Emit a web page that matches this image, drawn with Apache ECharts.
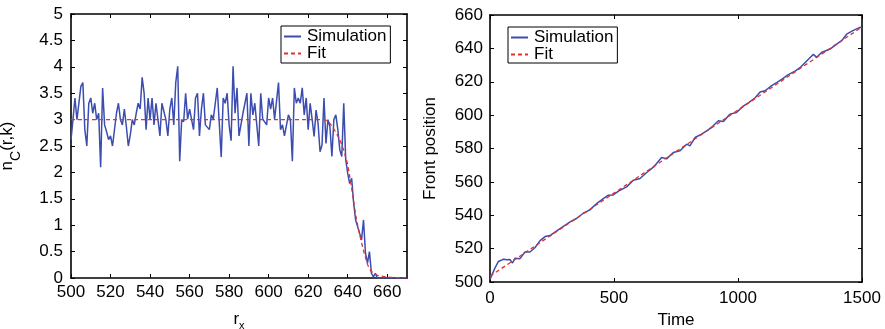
<!DOCTYPE html>
<html><head><meta charset="utf-8">
<script src="https://cdn.jsdelivr.net/npm/echarts@6/dist/echarts.min.js"></script>
<style>html,body{margin:0;padding:0;background:#fff}#c{width:885px;height:329px}</style>
</head><body><div id="c"></div>
<script>
// ---------- Left panel data ----------
const rStart = 500;
const nSim = [
 2.62,3.0,3.41,3.0,3.0,3.63,3.70,2.81,2.50,3.31,3.41,3.12,3.31,3.0,3.12,2.10,3.60,2.90,2.77,2.62,
 2.69,2.50,2.50,3.12,3.31,3.0,2.90,3.20,2.87,2.50,2.71,3.0,2.90,3.12,3.31,3.20,3.80,3.50,2.81,3.41,
 3.0,3.41,2.90,3.31,3.0,2.69,3.31,3.31,3.0,2.69,3.20,3.41,2.90,3.70,4.01,2.21,
 3.0,2.96,3.50,3.01,3.20,3.20,2.81,3.41,3.50,2.69,3.20,3.50,2.90,2.90,2.81,3.09,3.01,3.31,3.60,3.60,
 2.29,3.41,3.31,3.50,2.90,2.60,4.01,3.12,3.60,2.69,2.69,3.12,3.31,3.50,2.50,3.50,3.09,3.31,2.90,2.50,
 3.50,3.01,3.01,2.90,3.41,3.20,3.41,3.01,3.01,3.70,2.81,2.90,2.69,2.69,3.09,3.0,2.21,3.60,
 3.31,3.41,3.31,3.60,3.09,3.41,2.81,3.31,3.01,2.68,3.18,2.93,2.39,2.52,3.41,2.55,3.0,2.87,2.30,3.0,
 3.09,2.81,2.43,2.30,3.31,2.24,1.98,1.79,1.89,1.42,1.10,1.10,0.85,0.72,1.10,0.47,0.28,0.50,0.09,0.02,
 0.09,0,0,0,0,0,0,0,0,0,0,0,0,0,0,0,0
];
const fitR = [500,628,630,632,634,635,636,637,638,639,640,641,642,643,644,645,646,647,648,649,650,651,652,653,655,658,662,670];
const fitN = [3,3,2.97,2.88,2.76,2.69,2.62,2.52,2.42,2.28,2.15,1.93,1.70,1.45,1.20,1.0,0.83,0.67,0.52,0.39,0.26,0.17,0.12,0.09,0.05,0.03,0.01,0];
const rTicks = [500,520,540,560,580,600,620,640,660];
const nTicks = [0,0.5,1,1.5,2,2.5,3,3.5,4,4.5,5];

// ---------- Right panel data ----------
const timeSim = [0,10,20,34,45,54,70,80,91,101,121,141,161,181,202,222,242,269,296,323,350,376,403,430,457,477,497,524,551,578,605,632,659,692,712,739,766,793,806,827,853,880,900,921,941,968,994,1021,1042,1069,1089,1109,1136,1156,1176,1203,1230,1250,1270,1290,1304,1317,1337,1371,1398,1418,1438,1465,1492,1500];
const posSim = [501.6,505,508.4,512.3,513,513.7,513.3,513.5,511.4,514.3,514,518.0,518.0,520.5,524.8,527.2,527.8,530.6,533.4,536.0,538.2,541.2,543.2,547.0,550.0,552.0,552.2,555.0,557.0,561.0,562.0,565.6,568.8,574.6,573.8,577.6,578.6,582.6,581.6,586.6,588.6,591.2,593.6,596.6,596.2,600.6,601.6,605.4,607.4,610.4,613.8,614.6,617.7,619.5,621.4,624.3,626.4,628.4,631.4,634.4,636.4,634.6,637.5,639.6,642.6,644.6,648.5,650.8,652.6,652.4];
const timeFit = [0,1500];
const posFit = [503.5,652.8];
const timeTicks = [0,500,1000,1500];
const posTicks = [500,520,540,560,580,600,620,640,660];

const FONT = '"Liberation Sans", Arial, Helvetica, sans-serif';
const BLUE = '#3c4db0';
const RED = '#e2322b';

function axis(o){
  const base = {
    type:'value', min:o.min, max:o.max, gridIndex:o.grid, position:o.pos,
    axisLine:{show:true, onZero:false, lineStyle:{color:'#000', width:1.6}},
    axisTick:{show:true, inside:true, length:4, customValues:o.ticks, lineStyle:{color:'#000', width:1}},
    axisLabel:{show:!!o.label, customValues:o.ticks, margin:o.margin||7, color:'#000', fontSize:17, fontFamily:FONT,
      formatter:(v)=>String(v)},
    splitLine:{show:false}
  };
  if(o.name){ Object.assign(base, o.name); }
  return base;
}

const legendBase = {orient:'vertical', itemGap:0, itemWidth:17, itemHeight:10,
  backgroundColor:'#fff', borderColor:'#000', borderWidth:1,
  itemStyle:{opacity:0},
  textStyle:{fontSize:17,fontFamily:FONT,color:'#000',padding:[0,0,0,1]},
  data:['Simulation','Fit']};

const chart = echarts.init(document.getElementById('c'), null, {renderer:'canvas'});
chart.setOption({
  animation:false,
  backgroundColor:'#fff',
  textStyle:{fontFamily:FONT},
  grid:[
    {left:71, right:478, top:14, bottom:51, outerBoundsMode:'none'},
    {left:490, right:23, top:15, bottom:47, outerBoundsMode:'none'}
  ],
  xAxis:[
    axis({min:500,max:670,grid:0,pos:'bottom',ticks:rTicks,label:true,margin:6,name:{
      name:'{a|r}{b|x}', nameLocation:'middle', nameGap:33,
      nameTextStyle:{rich:{a:{fontSize:17,fontFamily:FONT,color:'#000',lineHeight:18,verticalAlign:'top'},b:{fontSize:11,fontFamily:FONT,color:'#000',verticalAlign:'bottom',lineHeight:20}}}
    }}),
    axis({min:500,max:670,grid:0,pos:'top',ticks:rTicks}),
    axis({min:0,max:1500,grid:1,pos:'bottom',ticks:timeTicks,label:true,margin:8,name:{
      name:'Time', nameLocation:'middle', nameGap:29,
      nameTextStyle:{fontSize:17,fontFamily:FONT,color:'#000'}
    }}),
    axis({min:0,max:1500,grid:1,pos:'top',ticks:timeTicks})
  ],
  yAxis:[
    axis({min:0,max:5,grid:0,pos:'left',ticks:nTicks,label:true,margin:8,name:{
      name:'{a|n}{b|C}{a|(r,k)}', nameLocation:'middle', nameGap:48, nameRotate:90,
      nameTextStyle:{rich:{a:{fontSize:17,fontFamily:FONT,color:'#000',lineHeight:20,verticalAlign:'top'},b:{fontSize:14,fontFamily:FONT,color:'#000',lineHeight:24,verticalAlign:'bottom'}}}
    }}),
    axis({min:0,max:5,grid:0,pos:'right',ticks:nTicks}),
    axis({min:500,max:660,grid:1,pos:'left',ticks:posTicks,label:true,margin:7,name:{
      name:'Front position', nameLocation:'middle', nameGap:51, nameRotate:90,
      nameTextStyle:{fontSize:17,fontFamily:FONT,color:'#000'}
    }}),
    axis({min:500,max:660,grid:1,pos:'right',ticks:posTicks})
  ],
  legend:[
    Object.assign({}, legendBase, {left:281, top:26, padding:[2,4,1,2]}),
    Object.assign({}, legendBase, {left:508, top:27, padding:[2,4,0,2]})
  ],
  series:[
    {name:'Simulation', type:'line', xAxisIndex:0, yAxisIndex:0, symbol:'none', color:BLUE,
     lineStyle:{color:BLUE, width:1.5}, data:nSim.map((v,i)=>[rStart+i,v]), z:2},
    {name:'Fit', type:'line', xAxisIndex:0, yAxisIndex:0, symbol:'none', color:RED,
     lineStyle:{color:RED, width:1.3, type:[4,3]}, data:fitR.map((r,i)=>[r,fitN[i]]), z:3},
    {name:'Simulation', type:'line', xAxisIndex:2, yAxisIndex:2, symbol:'none', color:BLUE,
     lineStyle:{color:BLUE, width:1.5}, data:timeSim.map((t,i)=>[t,posSim[i]]), z:2},
    {name:'Fit', type:'line', xAxisIndex:2, yAxisIndex:2, symbol:'none', color:RED,
     lineStyle:{color:RED, width:1.3, type:[4,3]}, data:timeFit.map((t,i)=>[t,posFit[i]]), z:3}
  ]
});
</script>
</body></html>
